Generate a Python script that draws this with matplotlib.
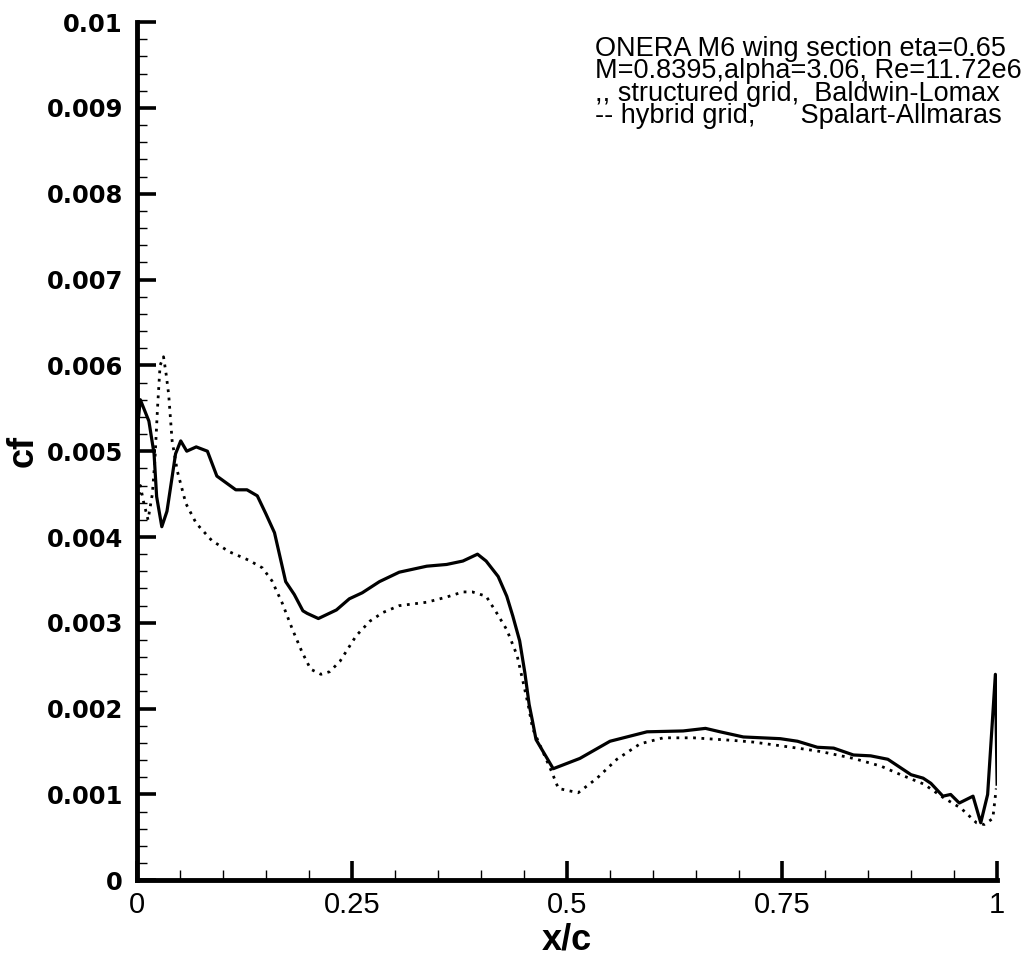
import matplotlib
matplotlib.use('Agg')
import matplotlib.pyplot as plt
from matplotlib.ticker import MultipleLocator, FixedFormatter, FixedLocator
import numpy as np

# hybrid grid, Spalart-Allmaras (solid)
x_hybrid = [0.000, 0.004, 0.008, 0.014, 0.020, 0.023, 0.029, 0.035, 0.041, 0.045,
            0.051, 0.058, 0.069, 0.082, 0.093, 0.115, 0.128, 0.140, 0.150, 0.160,
            0.173, 0.183, 0.193, 0.198, 0.211, 0.232, 0.247, 0.262, 0.282, 0.305,
            0.337, 0.360, 0.379, 0.396, 0.406, 0.420, 0.430, 0.437, 0.445, 0.451,
            0.456, 0.460, 0.464, 0.484, 0.515, 0.550, 0.593, 0.635, 0.661, 0.678,
            0.705, 0.748, 0.768, 0.791, 0.810, 0.833, 0.853, 0.873, 0.900, 0.914,
            0.923, 0.937, 0.946, 0.956, 0.972, 0.981, 0.989, 0.995, 0.998, 1.000]
cf_hybrid = [0.00520, 0.00560, 0.00550, 0.00535, 0.00497, 0.00447, 0.00412, 0.00430, 0.00470, 0.00497,
             0.00512, 0.00500, 0.00505, 0.00500, 0.00471, 0.00455, 0.00455, 0.00448, 0.00427, 0.00405,
             0.00348, 0.00333, 0.00314, 0.00311, 0.00305, 0.00315, 0.00328, 0.00335, 0.00348, 0.00359,
             0.00366, 0.00368, 0.00372, 0.00380, 0.00372, 0.00354, 0.00331, 0.00308, 0.00279, 0.00242,
             0.00205, 0.00185, 0.00164, 0.00130, 0.00142, 0.00162, 0.00173, 0.00174, 0.00177, 0.00173,
             0.00167, 0.00165, 0.00162, 0.00155, 0.00154, 0.00146, 0.00145, 0.00141, 0.00123, 0.00119,
             0.00113, 0.00098, 0.00100, 0.00090, 0.00098, 0.00067, 0.00100, 0.00193, 0.00240, 0.00112]

# structured grid, Baldwin-Lomax (dotted)
x_struct = [0.000, 0.004, 0.008, 0.013, 0.018, 0.021, 0.024, 0.027, 0.031, 0.034,
            0.037, 0.041, 0.047, 0.057, 0.069, 0.087, 0.107, 0.130, 0.146, 0.157,
            0.169, 0.181, 0.192, 0.202, 0.214, 0.224, 0.236, 0.255, 0.271, 0.286,
            0.305, 0.337, 0.360, 0.379, 0.390, 0.406, 0.418, 0.430, 0.442, 0.449,
            0.455, 0.460, 0.482, 0.490, 0.513, 0.535, 0.558, 0.585, 0.612, 0.647,
            0.693, 0.717, 0.768, 0.795, 0.833, 0.865, 0.888, 0.915, 0.938, 0.958,
            0.976, 0.985, 0.995, 0.999]
cf_struct = [0.00430, 0.00460, 0.00440, 0.00420, 0.00450, 0.00490, 0.00550, 0.00600, 0.00610, 0.00590,
             0.00566, 0.00512, 0.00477, 0.00439, 0.00416, 0.00396, 0.00383, 0.00373, 0.00364, 0.00349,
             0.00323, 0.00292, 0.00266, 0.00246, 0.00240, 0.00243, 0.00255, 0.00285, 0.00302, 0.00312,
             0.00320, 0.00324, 0.00330, 0.00336, 0.00336, 0.00331, 0.00312, 0.00292, 0.00262, 0.00231,
             0.00204, 0.00177, 0.00127, 0.00107, 0.00102, 0.00119, 0.00141, 0.00159, 0.00166, 0.00166,
             0.00163, 0.00161, 0.00154, 0.00150, 0.00142, 0.00133, 0.00123, 0.00112, 0.00096, 0.00084,
             0.00067, 0.00065, 0.00072, 0.00107]

x_ticks = [0, 0.25, 0.5, 0.75, 1]
x_tick_labels = ['0', '0.25', '0.5', '0.75', '1']
y_ticks = [0, 0.001, 0.002, 0.003, 0.004, 0.005, 0.006, 0.007, 0.008, 0.009, 0.01]
y_tick_labels = ['0', '0.001', '0.002', '0.003', '0.004', '0.005', '0.006',
                 '0.007', '0.008', '0.009', '0.01']

info_lines = [
    'ONERA M6 wing section eta=0.65',
    'M=0.8395,alpha=3.06, Re=11.72e6',
    ',, structured grid,  Baldwin-Lomax',
    '-- hybrid grid,      Spalart-Allmaras',
]

fig = plt.figure(figsize=(10.29, 9.61), dpi=100)
ax = fig.add_axes([0.133, 0.084, 0.836, 0.893])

ax.plot(x_struct, cf_struct, color='black', linewidth=2.0, linestyle=(0, (1, 2.0)), zorder=2)
ax.plot(x_hybrid, cf_hybrid, color='black', linewidth=2.3, solid_joinstyle='round', zorder=3)

ax.set_xlim(0, 1)
ax.set_ylim(0, 0.01)

# Tecplot-style frame: only left and bottom axes
ax.spines['top'].set_visible(False)
ax.spines['right'].set_visible(False)
ax.spines['left'].set_linewidth(3.5)
ax.spines['bottom'].set_linewidth(3.5)
ax.spines['left'].set_capstyle('projecting')
ax.spines['bottom'].set_capstyle('projecting')

ax.xaxis.set_major_locator(FixedLocator(x_ticks))
ax.xaxis.set_major_formatter(FixedFormatter(x_tick_labels))
ax.xaxis.set_minor_locator(MultipleLocator(0.05))
ax.yaxis.set_major_locator(FixedLocator(y_ticks))
ax.yaxis.set_major_formatter(FixedFormatter(y_tick_labels))
ax.yaxis.set_minor_locator(MultipleLocator(0.0002))

ax.tick_params(which='major', direction='in', length=14, width=2.6, top=False, right=False)
ax.tick_params(which='minor', direction='in', length=7, width=1.0, top=False, right=False)
ax.tick_params(axis='x', which='major', pad=8)
ax.tick_params(axis='y', which='major', pad=10)

for lab in ax.get_xticklabels():
    lab.set_fontfamily('Liberation Sans')
    lab.set_fontsize(21)
for lab in ax.get_yticklabels():
    lab.set_fontfamily('DejaVu Sans')
    lab.set_fontweight('bold')
    lab.set_fontsize(17.5)

ax.set_xlabel('x/c', fontfamily='Liberation Sans', fontweight='bold', fontsize=26, labelpad=2)
ax.set_ylabel('cf', fontfamily='Liberation Sans', fontweight='bold', fontsize=26, labelpad=4)

ax.text(0.533, 0.984, '\n'.join(info_lines), transform=ax.transAxes,
        ha='left', va='top', fontsize=19.5, linespacing=0.82,
        fontfamily='Liberation Sans')

fig.savefig('out.png', dpi=100)
